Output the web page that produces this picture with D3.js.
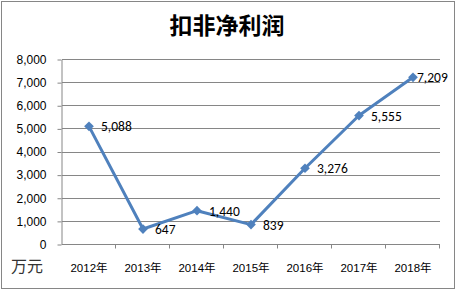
<!DOCTYPE html>
<html>
<head>
<meta charset="utf-8">
<script src="https://cdn.jsdelivr.net/npm/d3@7"></script>
<style>
  body { margin: 0; background: #fff; }
</style>
</head>
<body>
<div id="chart"></div>
<script>
const years = ['2012年', '2013年', '2014年', '2015年', '2016年', '2017年', '2018年'];
const profit = [5088, 647, 1440, 839, 3276, 5555, 7209];
const yTicks = [0, 1000, 2000, 3000, 4000, 5000, 6000, 7000, 8000];

const width = 456, height = 291;
const margin = { top: 59, right: 16, bottom: 47, left: 62 };

const svg = d3.select('#chart').append('svg')
  .attr('width', width)
  .attr('height', height);

// chart frame
svg.append('rect')
  .attr('x', 1.5).attr('y', 1.5)
  .attr('width', width - 3).attr('height', height - 4)
  .attr('fill', '#fff')
  .attr('stroke', '#868686');

svg.append('text')
  .attr('x', 227).attr('y', 34)
  .attr('text-anchor', 'middle')
  .attr('font-family', '"Noto Sans CJK SC"')
  .attr('font-weight', 'bold')
  .attr('font-size', 23)
  .attr('fill', '#000')
  .text('扣非净利润');

const innerW = 378, innerH = 185;

const x = d3.scaleBand().domain(years).range([0, innerW]);
const y = d3.scaleLinear().domain([0, 8000]).range([innerH, 0]);

const g = svg.append('g')
  .attr('transform', 'translate(' + margin.left + ',' + margin.top + ')');

// gridlines
g.append('g')
  .selectAll('line')
  .data(yTicks.slice(1))
  .enter().append('line')
  .attr('x1', 0).attr('x2', innerW)
  .attr('y1', d => Math.round(y(d)) + 0.5)
  .attr('y2', d => Math.round(y(d)) + 0.5)
  .attr('stroke', '#868686');

// y axis
const yAxis = g.append('g')
  .attr('transform', 'translate(-0.5,0.5)')
  .call(d3.axisLeft(y).tickValues(yTicks).tickFormat(d3.format(',')).tickSizeInner(4).tickSizeOuter(0));
yAxis.select('.domain').attr('stroke', '#868686');
yAxis.selectAll('.tick line').attr('stroke', '#868686');
yAxis.selectAll('.tick text')
  .attr('x', -15)
  .attr('fill', '#000')
  .attr('font-family', 'Arial, "Liberation Sans"')
  .attr('font-size', 12);

// x axis with ticks between categories
const xAxis = g.append('g')
  .attr('transform', 'translate(0,' + (innerH + 0.5) + ')');
xAxis.append('line')
  .attr('x1', 0).attr('x2', innerW)
  .attr('stroke', '#868686');
xAxis.selectAll('.sep')
  .data(years)
  .enter().append('line')
  .attr('class', 'sep')
  .attr('x1', d => Math.round(x(d) + x.bandwidth()) - 0.5)
  .attr('x2', d => Math.round(x(d) + x.bandwidth()) - 0.5)
  .attr('y1', 0).attr('y2', 4)
  .attr('stroke', '#868686');
xAxis.selectAll('.lbl')
  .data(years)
  .enter().append('text')
  .attr('class', 'lbl')
  .attr('x', d => x(d) + x.bandwidth() / 2)
  .attr('y', 27)
  .attr('text-anchor', 'middle')
  .attr('font-family', 'Arial, "Noto Sans CJK SC"')
  .attr('font-size', 11.5)
  .attr('fill', '#000')
  .text(d => d);

svg.append('text')
  .attr('x', 11).attr('y', 272)
  .attr('font-family', '"Noto Sans CJK SC"')
  .attr('font-size', 16)
  .attr('fill', '#333')
  .text('万元');

const cx = (d, i) => x(years[i]) + x.bandwidth() / 2;

const line = d3.line()
  .x((d, i) => cx(d, i))
  .y(d => y(d));

g.append('path')
  .datum(profit)
  .attr('d', line)
  .attr('fill', 'none')
  .attr('stroke', '#4F81BD')
  .attr('stroke-width', 3)
  .attr('stroke-linejoin', 'round');

g.selectAll('.marker')
  .data(profit)
  .enter().append('path')
  .attr('class', 'marker')
  .attr('d', d3.symbol(d3.symbolDiamond2, 60))
  .attr('transform', (d, i) => 'translate(' + cx(d, i) + ',' + y(d) + ')')
  .attr('fill', '#4F81BD');

g.selectAll('.val')
  .data(profit)
  .enter().append('text')
  .attr('class', 'val')
  .attr('x', (d, i) => cx(d, i) + (i === 6 ? 4 : 12))
  .attr('y', d => y(d) + 5)
  .attr('font-family', 'Calibri, Carlito, Arial, "Liberation Sans"')
  .attr('font-size', 13.5)
  .attr('fill', '#000')
  .text(d => d3.format(',')(d));
</script>
</body>
</html>
